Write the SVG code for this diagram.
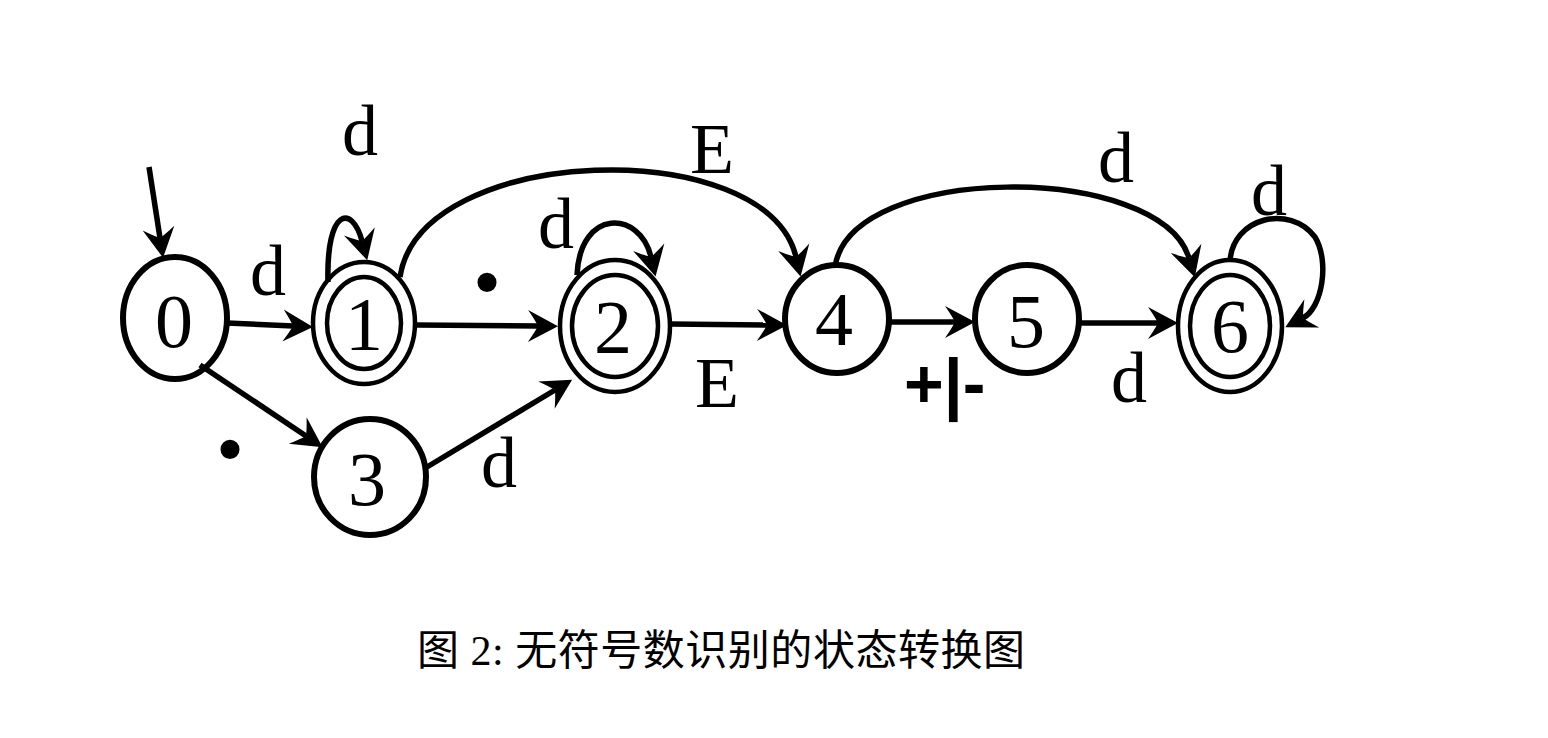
<svg xmlns="http://www.w3.org/2000/svg" width="1548" height="738" viewBox="0 0 1548 738">
<style>
.node{fill:none;stroke:#000;stroke-width:6}
.acc{fill:none;stroke:#000;stroke-width:4.5}
.st{font-family:"Liberation Serif","Times New Roman",serif;font-size:76px;text-anchor:middle;fill:#000}
.lb{font-family:"Liberation Serif","Times New Roman",serif;font-size:72px;text-anchor:middle;fill:#000}
.pm{font-family:"Liberation Sans",Arial,sans-serif;font-size:68px;font-weight:bold;fill:#000}
.dot{font-family:"Liberation Serif","Times New Roman",serif;font-size:80px;text-anchor:middle;fill:#000}
.edge{fill:none;stroke:#000;stroke-width:5.5;marker-end:url(#arr)}
.cap{font-family:"Liberation Serif","Noto Sans CJK SC",serif;font-size:42px;fill:#000}
</style>
<defs>
<marker id="arr" markerUnits="userSpaceOnUse" markerWidth="60" markerHeight="60" refX="0" refY="0" orient="auto" overflow="visible" viewBox="-30 -30 60 60">
<path d="M20,0 L-10,-16 Q-3,-6 0,0 Q-3,6 -10,16 Z" fill="#000"/>
</marker>
</defs>
<g id="edges">
<path class="edge" d="M149,167 L160,238"/>
<path class="edge" d="M227,323 L293,326"/>
<path class="edge" d="M328,282 C326,208 352,204 362,241"/>
<path class="edge" d="M400,277 C420,143 767,133 796,257"/>
<path class="edge" d="M416,325 L538,326"/>
<path class="edge" d="M577,275 C580,208 640,210 651,257"/>
<path class="edge" d="M670,324 L767,325"/>
<path class="edge" d="M200,365 L306,436"/>
<path class="edge" d="M427,467 L555,390"/>
<path class="edge" d="M835,267 C850,162 1160,162 1189,258"/>
<path class="edge" d="M890,322 L955,322"/>
<path class="edge" d="M1080,323 L1158,323"/>
<path class="edge" d="M1230,262 C1232,217 1290,204 1315,237 C1330,262 1322,308 1303,318"/>
</g>
<g id="labels">
<text class="lb" x="360" y="155">d</text>
<text class="lb" x="268" y="295">d</text>
<text class="lb" x="556" y="248">d</text>
<text class="lb" x="499" y="487">d</text>
<text class="lb" x="1116" y="182">d</text>
<text class="lb" x="1129" y="402">d</text>
<text class="lb" x="1269" y="215">d</text>
<text class="lb" x="712" y="173">E</text>
<text class="lb" x="717" y="407">E</text>
<text class="pm" x="904" y="407">+|-</text>
<text class="dot" x="487" y="309">•</text>
<text class="dot" x="230" y="476">•</text>
</g>
<g id="n0"><ellipse class="node" cx="175" cy="318" rx="52" ry="61"/><text class="st" x="174" y="347">0</text></g>
<g id="n1"><ellipse class="acc" cx="364" cy="323" rx="51" ry="61"/><ellipse class="acc" cx="364" cy="323" rx="37" ry="46"/><text class="st" x="364" y="350">1</text></g>
<g id="n2"><ellipse class="acc" cx="615" cy="326" rx="55" ry="66"/><ellipse class="acc" cx="615" cy="326" rx="43" ry="51"/><text class="st" x="613" y="353">2</text></g>
<g id="n3"><ellipse class="node" cx="370" cy="477" rx="56" ry="58"/><text class="st" x="367" y="505">3</text></g>
<g id="n4"><ellipse class="node" cx="837" cy="319" rx="52" ry="54"/><text class="st" x="834" y="345">4</text></g>
<g id="n5"><ellipse class="node" cx="1027" cy="319" rx="52" ry="54"/><text class="st" x="1026" y="347">5</text></g>
<g id="n6"><ellipse class="acc" cx="1230" cy="326" rx="52" ry="66"/><ellipse class="acc" cx="1230" cy="326" rx="40" ry="51"/><text class="st" x="1230" y="352">6</text></g>
<text class="cap" x="417" y="665" textLength="608" lengthAdjust="spacing">图 2: 无符号数识别的状态转换图</text>
</svg>
